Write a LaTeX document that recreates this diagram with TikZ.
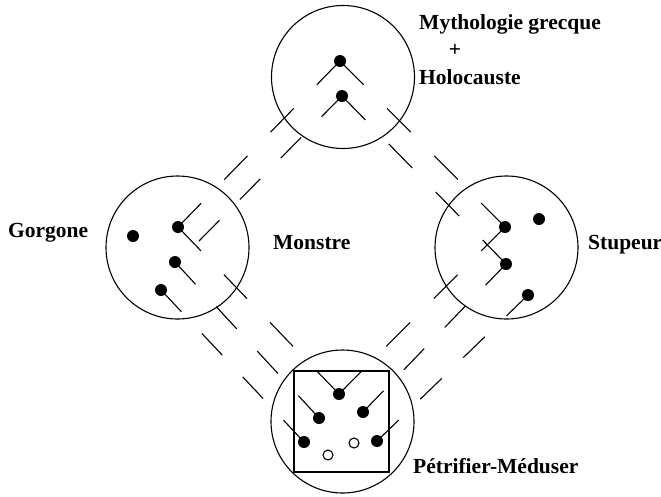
\documentclass[tikz,border=0pt]{standalone}
\usepackage{fontspec}
\setmainfont{Liberation Serif}
\usepackage{tikz}
\usetikzlibrary{calc}
\tikzstyle{sphere} = [circle, draw=black, line width=1.1pt, minimum size=143pt, inner sep=0pt]
\tikzstyle{seme} = [circle, fill=black, minimum size=12pt, inner sep=0pt]
\tikzstyle{voidseme} = [circle, draw=black, fill=white, line width=1.1pt, minimum size=10pt, inner sep=0pt]
\tikzstyle{link} = [line width=1.1pt]
\tikzstyle{lexeme} = [font=\bfseries\fontsize{21.5}{25}\selectfont, inner sep=0pt, anchor=base west]

\begin{document}
\begin{tikzpicture}[x=1pt, y=-1pt]

        \useasboundingbox (0,0) rectangle (661,496);

        \node (myth) [sphere] at (343,77) {};
        \node (gorg) [sphere] at (177.5,247.5) {};
        \node (stup) [sphere] at (506.5,247.5) {};
        \node (petr) [sphere] at (342.5,421.5) {};
        \node (frame) [draw=black, line width=1.1pt, minimum width=95pt, minimum height=101pt, inner sep=0pt] at (341.5,421.5) {};

        \node (t1) [seme] at (340,61) {};
        \node (t2) [seme] at (342,96) {};

        \node (l0) [seme] at (133,236) {};
        \node (l1) [seme] at (178,227) {};
        \node (l2) [seme] at (175,262) {};
        \node (l3) [seme] at (161,290) {};

        \node (r0) [seme] at (539,219) {};
        \node (r1) [seme] at (505,227) {};
        \node (r2) [seme] at (506,264) {};
        \node (r3) [seme] at (528,295) {};

        \node (b1) [seme] at (339,394) {};
        \node (b2) [seme] at (319,418) {};
        \node (b3) [seme] at (363,412) {};
        \node (b4) [seme] at (304,442) {};
        \node (b5) [seme] at (377,441) {};
        \node (o1) [voidseme] at (354,443) {};
        \node (o2) [voidseme] at (328,455) {};

        \node (mythlabel) [lexeme] at (419,29) {Mythologie grecque};
        \node (plus) [lexeme, anchor=center] at (455,50) {+};
        \node (hololabel) [lexeme] at (419,84) {Holocauste};
        \node (gorglabel) [lexeme] at (8,237) {Gorgone};
        \node (monslabel) [lexeme] at (273,249) {Monstre};
        \node (stuplabel) [lexeme] at (588,249) {Stupeur};
        \node (petrlabel) [lexeme] at (413,473) {Pétrifier-Méduser};

        \coordinate (loose) at (199,241);

        \foreach \from/\dest in {t1/l1, t2/loose, t1/r1, t2/r2, l1/b1, l2/b2, l3/b4, r1/b1, r2/b3, r3/b5}
            \foreach \p/\q in {0/0.142857, 0.285714/0.428571, 0.571429/0.714286, 0.857143/1}
                \draw [link] ($(\from.center)!\p!(\dest.center)$) -- ($(\from.center)!\q!(\dest.center)$);

    \end{tikzpicture}
\end{document}
